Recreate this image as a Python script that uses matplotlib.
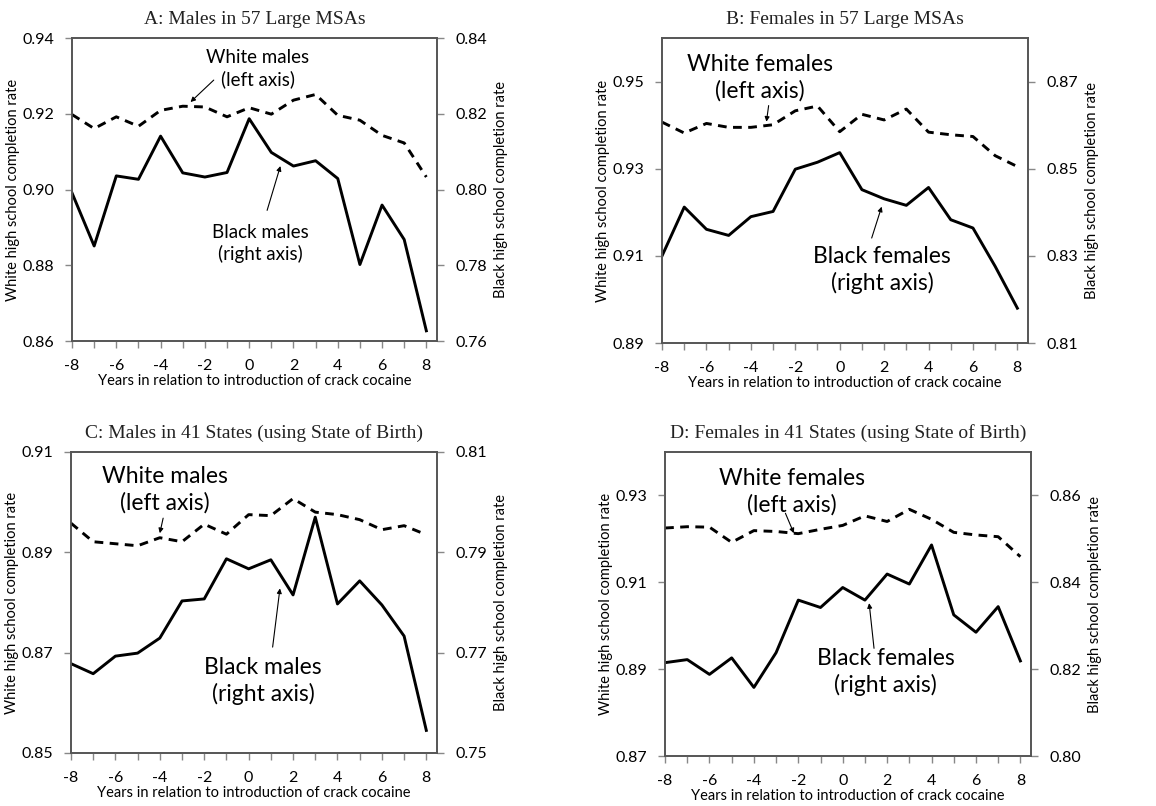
import matplotlib
matplotlib.use("Agg")
import matplotlib.pyplot as plt

plt.rcParams['font.family'] = ['Lato', 'DejaVu Sans']

years = list(range(-8, 9))

# Panel A: Males in 57 large MSAs
white_m_msa = [0.9198, 0.9161, 0.9192, 0.9167, 0.9209, 0.9220, 0.9218, 0.9192, 0.9216,
               0.9199, 0.9236, 0.9251, 0.9196, 0.9183, 0.9143, 0.9123, 0.9033]
black_m_msa = [0.7991, 0.7851, 0.8036, 0.8027, 0.8141, 0.8044, 0.8033, 0.8045, 0.8187,
               0.8098, 0.8062, 0.8076, 0.8029, 0.7802, 0.7959, 0.7868, 0.7627]

# Panel B: Females in 57 large MSAs
white_f_msa = [0.9407, 0.9382, 0.9404, 0.9395, 0.9395, 0.9401, 0.9433, 0.9444, 0.9385,
               0.9425, 0.9412, 0.9437, 0.9384, 0.9378, 0.9374, 0.9330, 0.9305]
black_f_msa = [0.8300, 0.8412, 0.8361, 0.8347, 0.8390, 0.8402, 0.8499, 0.8515, 0.8537,
               0.8452, 0.8431, 0.8416, 0.8457, 0.8383, 0.8364, 0.8276, 0.8180]

# Panel C: Males in 41 states (state of birth)
white_m_st = [0.8958, 0.8921, 0.8917, 0.8913, 0.8929, 0.8921, 0.8956, 0.8936, 0.8975,
              0.8973, 0.9007, 0.8980, 0.8975, 0.8965, 0.8945, 0.8953, 0.8935]
black_m_st = [0.7678, 0.7658, 0.7693, 0.7699, 0.7729, 0.7803, 0.7807, 0.7887, 0.7867,
              0.7885, 0.7815, 0.7970, 0.7797, 0.7843, 0.7795, 0.7733, 0.7545]

# Panel D: Females in 41 states (state of birth)
white_f_st = [0.9225, 0.9228, 0.9227, 0.9192, 0.9219, 0.9217, 0.9212, 0.9222, 0.9231,
              0.9253, 0.9240, 0.9268, 0.9245, 0.9215, 0.9209, 0.9205, 0.9159]
black_f_st = [0.8215, 0.8222, 0.8188, 0.8226, 0.8158, 0.8238, 0.8359, 0.8342, 0.8388,
              0.8359, 0.8419, 0.8396, 0.8486, 0.8325, 0.8285, 0.8344, 0.8219]

panels = [
    dict(rect=[0.0623, 0.5769, 0.3157, 0.3759],
         title="A: Males in 57 Large MSAs",
         white=white_m_msa, black=black_m_msa,
         lim_l=(0.86, 0.94), ticks_l=[0.86, 0.88, 0.90, 0.92, 0.94],
         lim_r=(0.76, 0.84), ticks_r=[0.76, 0.78, 0.80, 0.82, 0.84],
         wlab="White males\n(left axis)", wpos=(0.4, 0.9319), warr=((-1.6, 0.9289), (-2.65, 0.9231)),
         blab="Black males\n(right axis)", bpos=(0.5, 0.8858), barr=((0.81, 0.8945), (1.41, 0.9062)),
         fs=13.5),
    dict(rect=[0.5727, 0.5744, 0.3166, 0.3784],
         title="B: Females in 57 Large MSAs",
         white=white_f_msa, black=black_f_msa,
         lim_l=(0.89, 0.96), ticks_l=[0.89, 0.91, 0.93, 0.95],
         lim_r=(0.81, 0.88), ticks_r=[0.81, 0.83, 0.85, 0.87],
         wlab="White females\n(left axis)", wpos=(-3.6, 0.9508), warr=((-3.2, 0.9445), (-3.3, 0.9408)),
         blab="Black females\n(right axis)", bpos=(1.9, 0.9068), barr=((1.44, 0.9141), (1.89, 0.9213)),
         fs=16.5),
    dict(rect=[0.0614, 0.0658, 0.3166, 0.3735],
         title="C: Males in 41 States (using State of Birth)",
         white=white_m_st, black=black_m_st,
         lim_l=(0.85, 0.91), ticks_l=[0.85, 0.87, 0.89, 0.91],
         lim_r=(0.75, 0.81), ticks_r=[0.75, 0.77, 0.79, 0.81],
         wlab="White males\n(left axis)", wpos=(-3.78, 0.9025), warr=((-3.85, 0.8968), (-4.0, 0.8938)),
         blab="Black males\n(right axis)", bpos=(0.66, 0.8643), barr=((1.08, 0.8711), (1.41, 0.8828)),
         fs=16.5),
    dict(rect=[0.5753, 0.0620, 0.3166, 0.3772],
         title="D: Females in 41 States (using State of Birth)",
         white=white_f_st, black=black_f_st,
         lim_l=(0.87, 0.94), ticks_l=[0.87, 0.89, 0.91, 0.93],
         lim_r=(0.80, 0.87), ticks_r=[0.80, 0.82, 0.84, 0.86],
         wlab="White females\n(left axis)", wpos=(-2.28, 0.9308), warr=((-2.58, 0.9259), (-2.2, 0.9213)),
         blab="Black females\n(right axis)", bpos=(1.94, 0.8893), barr=((1.41, 0.8948), (1.19, 0.9052)),
         fs=16.5),
]

fig = plt.figure(figsize=(11.56, 8.06), dpi=100)

for p in panels:
    ax = fig.add_axes(p["rect"])
    ax2 = ax.twinx()
    ax.plot(years, p["white"], color='black', lw=2.1, linestyle=(0, (3, 2.2)))
    ax2.plot(years, p["black"], color='black', lw=2.1)

    ax.set_xlim(-8, 8.48)
    ax.set_xticks(range(-8, 9))
    ax.set_xticklabels([str(y) if y % 2 == 0 else "" for y in years])
    ax.set_ylim(*p["lim_l"])
    ax.set_yticks(p["ticks_l"])
    ax.set_yticklabels(["%.2f" % t for t in p["ticks_l"]])
    ax2.set_ylim(*p["lim_r"])
    ax2.set_yticks(p["ticks_r"])
    ax2.set_yticklabels(["%.2f" % t for t in p["ticks_r"]])

    for a in (ax, ax2):
        a.tick_params(direction='out', length=5, width=1, colors='#888888',
                      labelcolor='black', labelsize=11.5, pad=8)
        for s in a.spines.values():
            s.set_color('#555555')
            s.set_linewidth(1.2)

    ax.set_xlabel("Years in relation to introduction of crack cocaine", fontsize=10.5, labelpad=1)
    ax.set_ylabel("White high school completion rate", fontsize=10.5, labelpad=1.5)
    ax2.set_ylabel("Black high school completion rate", fontsize=10.5, labelpad=5)
    ax.set_title(p["title"], family='Liberation Serif', fontsize=14, pad=10, color='#222222')

    ax.set_zorder(ax2.get_zorder() + 1)
    ax.patch.set_visible(False)

    ax.text(p["wpos"][0], p["wpos"][1], p["wlab"], ha='center', va='center',
            fontsize=p["fs"], linespacing=1.3)
    ax.text(p["bpos"][0], p["bpos"][1], p["blab"], ha='center', va='center',
            fontsize=p["fs"], linespacing=1.3)
    for arr in (p["warr"], p["barr"]):
        ax.annotate("", xy=arr[1], xytext=arr[0],
                    arrowprops=dict(arrowstyle='-|>', color='black', lw=0.8,
                                    mutation_scale=7, shrinkA=0, shrinkB=0))

fig.savefig("out.png", dpi=100)
